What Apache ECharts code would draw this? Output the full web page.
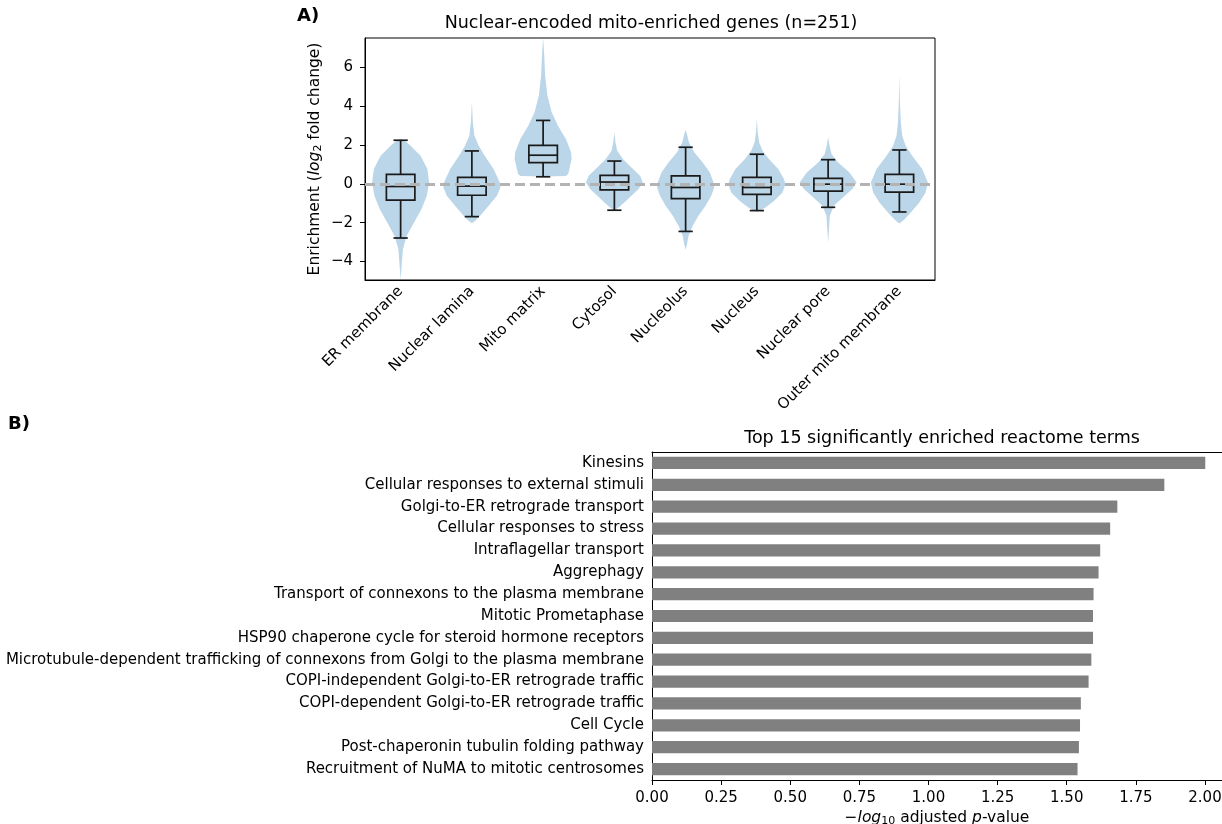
<!DOCTYPE html>
<html>
<head>
<meta charset="utf-8">
<script src="https://cdn.jsdelivr.net/npm/echarts@6/dist/echarts.min.js"></script>
<style>
  html, body { margin: 0; padding: 0; background: #fff; }
  #chart { width: 1222px; height: 824px; }
</style>
</head>
<body>
<div id="chart"></div>
<script>
  // ---- panel A: enrichment per compartment (log2 fold change) ----
  const compartments = ['ER membrane', 'Nuclear lamina', 'Mito matrix', 'Cytosol',
    'Nucleolus', 'Nucleus', 'Nuclear pore', 'Outer mito membrane'];
  const whiskerLow  = [-2.79, -1.69, 0.36, -1.36, -2.45, -1.38, -1.21, -1.45];
  const quartile1   = [-0.84, -0.59, 1.09, -0.31, -0.76, -0.55, -0.38, -0.43];
  const medians     = [-0.14, -0.12, 1.47,  0.09, -0.19, -0.19, -0.02, -0.02];
  const quartile3   = [ 0.48,  0.33, 1.98,  0.43,  0.41,  0.33,  0.28,  0.48];
  const whiskerHigh = [ 2.24,  1.69, 3.26,  1.17,  1.88,  1.52,  1.24,  1.74];

  // violin outlines: [value, half width relative to the widest]
  const violinShapes = [
    [[2.30, 0], [2.15, 0.2], [1.96, 0.35], [1.44, 0.7], [0.76, 0.94], [0.07, 1.0], [-0.62, 0.92],
     [-1.31, 0.73], [-1.99, 0.47], [-2.68, 0.21], [-3.37, 0.08], [-4.23, 0.035], [-4.95, 0]],
    [[4.19, 0], [3.16, 0.035], [2.47, 0.09], [1.96, 0.24], [1.44, 0.45], [0.76, 0.76], [0.07, 0.98],
     [-0.19, 1.0], [-0.62, 0.88], [-1.13, 0.59], [-1.65, 0.29], [-1.90, 0.12], [-2.03, 0]],
    [[7.50, 0], [6.60, 0.04], [5.57, 0.07], [4.54, 0.15], [3.68, 0.3], [2.99, 0.52], [2.30, 0.8],
     [1.62, 0.98], [1.27, 1.0], [0.76, 0.92], [0.50, 0.88], [0.40, 0.8], [0.38, 0]],
    [[2.65, 0], [2.13, 0.04], [1.70, 0.1], [1.27, 0.3], [0.84, 0.6], [0.41, 0.9], [0.07, 1.0],
     [-0.27, 0.85], [-0.62, 0.6], [-0.96, 0.35], [-1.22, 0.15], [-1.34, 0.03], [-1.37, 0]],
    [[2.78, 0], [2.47, 0.06], [2.13, 0.12], [1.62, 0.3], [1.10, 0.6], [0.58, 0.85], [0.07, 0.98],
     [-0.19, 1.0], [-0.62, 0.9], [-1.13, 0.7], [-1.65, 0.45], [-2.16, 0.25], [-2.68, 0.1],
     [-3.11, 0.05], [-3.40, 0]],
    [[3.33, 0], [2.65, 0.03], [2.13, 0.08], [1.70, 0.2], [1.27, 0.42], [0.76, 0.75], [0.24, 0.95],
     [-0.02, 1.0], [-0.45, 0.9], [-0.88, 0.6], [-1.22, 0.3], [-1.39, 0.1], [-1.44, 0]],
    [[2.39, 0], [1.96, 0.05], [1.53, 0.12], [1.10, 0.35], [0.58, 0.75], [0.07, 1.0], [-0.27, 0.85],
     [-0.79, 0.45], [-1.13, 0.2], [-1.65, 0.06], [-2.34, 0.03], [-3.02, 0]],
    [[5.57, 0], [4.19, 0.02], [3.16, 0.05], [2.47, 0.1], [1.96, 0.22], [1.44, 0.45], [0.76, 0.8],
     [0.07, 1.0], [-0.45, 0.92], [-0.96, 0.7], [-1.48, 0.4], [-1.82, 0.18], [-1.99, 0.05], [-2.03, 0]]
  ];

  // ---- panel B: top reactome terms ----
  const reactomeTerms = ['Kinesins', 'Cellular responses to external stimuli',
    'Golgi-to-ER retrograde transport', 'Cellular responses to stress', 'Intraflagellar transport',
    'Aggrephagy', 'Transport of connexons to the plasma membrane', 'Mitotic Prometaphase',
    'HSP90 chaperone cycle for steroid hormone receptors',
    'Microtubule-dependent trafficking of connexons from Golgi to the plasma membrane',
    'COPI-independent Golgi-to-ER retrograde traffic', 'COPI-dependent Golgi-to-ER retrograde traffic',
    'Cell Cycle', 'Post-chaperonin tubulin folding pathway', 'Recruitment of NuMA to mitotic centrosomes'];
  const negLogPadj = [2.001, 1.853, 1.683, 1.657, 1.621, 1.615, 1.597, 1.595, 1.595,
    1.589, 1.579, 1.551, 1.548, 1.544, 1.539];

  const FONT = 'DejaVu Sans';
  const TICK = 15;
  const minus = v => (v < 0 ? '\u2212' + Math.abs(v) : String(v));
  const nameRich = {
    a: { fontSize: 15.5, color: '#000' },
    i: { fontSize: 15.5, color: '#000', fontStyle: 'italic' },
    s: { fontSize: 11, color: '#000', verticalAlign: 'bottom', padding: [7, 0, 0, 0] }
  };

  function renderViolin(params, api) {
    const idx = api.value(0);
    const shape = violinShapes[params.dataIndex];
    const halfMax = api.size([1, 0])[0] * 0.4;
    const right = [], left = [];
    shape.forEach(([v, w]) => {
      const p = api.coord([idx, v]);
      right.push([p[0] + w * halfMax, p[1]]);
      left.unshift([p[0] - w * halfMax, p[1]]);
    });
    return {
      type: 'polygon',
      shape: { points: right.concat(left) },
      style: { fill: 'rgba(31,119,180,0.3)' }
    };
  }

  function renderBox(params, api) {
    const idx = api.value(0);
    const band = api.size([1, 0])[0];
    const c = api.coord([idx, 0])[0];
    const y = k => api.coord([idx, api.value(k)])[1];
    const bw = band * 0.2, cw = band * 0.1;
    const st = { stroke: '#1a1a1a', lineWidth: 1.7, fill: null };
    return {
      type: 'group',
      children: [
        { type: 'line', shape: { x1: c, y1: y(1), x2: c, y2: y(2) }, style: st },
        { type: 'line', shape: { x1: c, y1: y(4), x2: c, y2: y(5) }, style: st },
        { type: 'line', shape: { x1: c - cw, y1: y(1), x2: c + cw, y2: y(1) }, style: st },
        { type: 'line', shape: { x1: c - cw, y1: y(5), x2: c + cw, y2: y(5) }, style: st },
        { type: 'rect', shape: { x: c - bw, y: y(4), width: 2 * bw, height: y(2) - y(4) }, style: st },
        { type: 'line', shape: { x1: c - bw, y1: y(3), x2: c + bw, y2: y(3) }, style: st }
      ]
    };
  }

  const chart = echarts.init(document.getElementById('chart'));
  const option = {
    backgroundColor: '#fff',
    animation: false,
    textStyle: { fontFamily: FONT },
    graphic: [
      { type: 'text', x: 297, y: 7, style: { text: 'A)', font: 'bold 18px DejaVu Sans', fill: '#000' } },
      { type: 'text', x: 8, y: 415, style: { text: 'B)', font: 'bold 18px DejaVu Sans', fill: '#000' } },
      { type: 'text', x: 651, y: 23, style: { text: 'Nuclear-encoded mito-enriched genes (n=251)',
        font: '17.5px DejaVu Sans', fill: '#000', textAlign: 'center', textVerticalAlign: 'middle' } },
      { type: 'text', x: 942, y: 438, style: { text: 'Top 15 significantly enriched reactome terms',
        font: '17.5px DejaVu Sans', fill: '#000', textAlign: 'center', textVerticalAlign: 'middle' } }
    ],
    grid: [
      { left: 365, top: 38, width: 570, height: 242, show: true, borderColor: '#000', borderWidth: 1,
        outerBoundsMode: 'none', containLabel: false },
      { left: 652, top: 452, width: 570, height: 328, outerBoundsMode: 'none', containLabel: false }
    ],
    xAxis: [
      {
        type: 'category', gridIndex: 0, data: compartments,
        axisLine: { onZero: false, lineStyle: { color: '#000' } },
        axisTick: { alignWithLabel: true, length: 5, lineStyle: { color: '#000' } },
        axisLabel: { rotate: 45, fontSize: TICK, color: '#000', margin: 9, interval: 0 }
      },
      {
        type: 'value', gridIndex: 1, min: 0, max: 2.0615, interval: 0.25,
        splitLine: { show: false },
        axisLine: { show: true, onZero: false, lineStyle: { color: '#000' } },
        axisTick: { show: true, length: 5, lineStyle: { color: '#000' } },
        axisLabel: { fontSize: TICK, color: '#000', margin: 11, showMaxLabel: false,
          formatter: v => v.toFixed(2) },
        name: '{a|\u2212}{i|log}{s|10}{a| adjusted }{i|p}{a|-value}',
        nameLocation: 'middle', nameGap: 29,
        nameTextStyle: { fontSize: 15.5, color: '#000', rich: nameRich }
      },
      {
        // top frame line of panel B
        type: 'value', gridIndex: 1, position: 'top', min: 0, max: 2.0615,
        axisLine: { show: true, onZero: false, lineStyle: { color: '#000' } },
        axisTick: { show: false }, axisLabel: { show: false }, splitLine: { show: false }
      }
    ],
    yAxis: [
      {
        type: 'value', gridIndex: 0, min: -4.95, max: 7.5, splitNumber: 5,
        splitLine: { show: false },
        axisLine: { show: true, onZero: false, lineStyle: { color: '#000' } },
        axisTick: { show: true, length: 5, lineStyle: { color: '#000' } },
        axisLabel: { fontSize: TICK, color: '#000', margin: 12, showMinLabel: false, showMaxLabel: false,
          formatter: minus },
        name: '{a|Enrichment (}{i|log}{s|2}{a| fold change)}',
        nameLocation: 'middle', nameGap: 41, nameRotate: 90,
        nameTextStyle: { fontSize: 15.5, color: '#000', rich: nameRich }
      },
      {
        type: 'category', gridIndex: 1, data: reactomeTerms, inverse: true,
        axisLine: { onZero: false, lineStyle: { color: '#000' } },
        axisTick: { alignWithLabel: true, length: 5, lineStyle: { color: '#000' } },
        axisLabel: { fontSize: TICK, color: '#000', margin: 8, interval: 0 }
      }
    ],
    series: [
      {
        type: 'custom', name: 'violin', xAxisIndex: 0, yAxisIndex: 0,
        data: compartments.map((c, i) => [i]),
        encode: { x: 0 },
        renderItem: renderViolin,
        z: 1
      },
      {
        type: 'custom', name: 'box', xAxisIndex: 0, yAxisIndex: 0,
        data: compartments.map((c, i) =>
          [i, whiskerLow[i], quartile1[i], medians[i], quartile3[i], whiskerHigh[i]]),
        encode: { x: 0, y: [1, 2, 3, 4, 5] },
        renderItem: renderBox,
        z: 3,
        markLine: {
          silent: true, symbol: 'none', label: { show: false },
          lineStyle: { color: '#b3b3b3', width: 3, type: [10, 5], opacity: 1 },
          emphasis: { disabled: true },
          data: [{ yAxis: 0 }]
        }
      },
      {
        type: 'bar', xAxisIndex: 1, yAxisIndex: 1,
        data: negLogPadj,
        barCategoryGap: '44%',
        itemStyle: { color: '#808080' }
      }
    ]
  };
  chart.setOption(option);
</script>
</body>
</html>
